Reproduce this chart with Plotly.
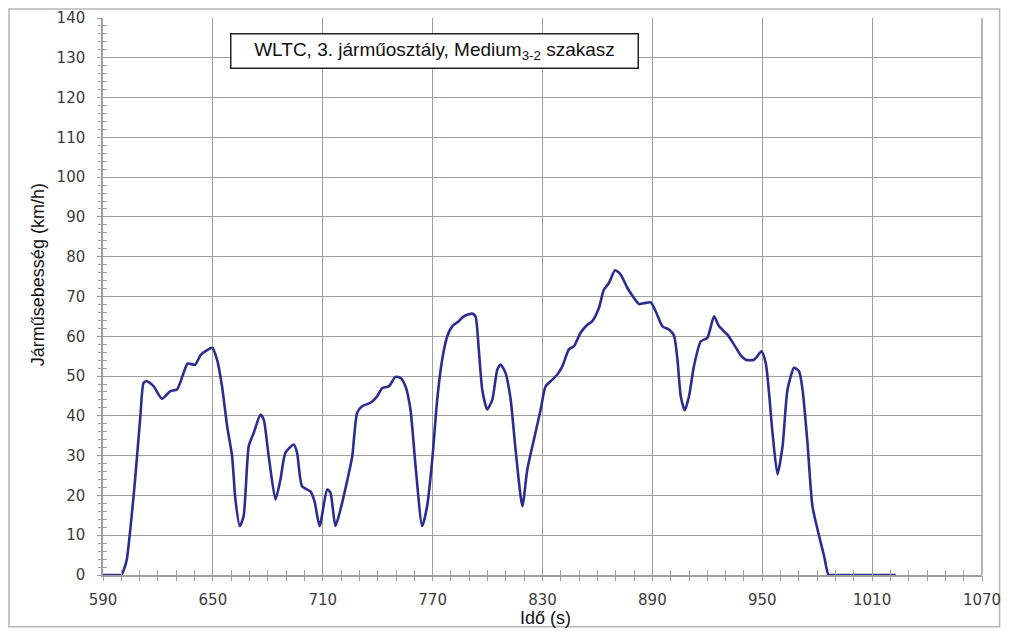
import plotly.graph_objects as go

# WLTC class 3, medium phase (3-2)
time_s = [590, 598, 600, 601.5, 603, 606.7, 608.6, 610.4, 612.2, 614, 617.7, 622.2, 626.8,
          630.4, 634, 636.2, 640.4, 643.2, 646.8, 649.6, 652.3, 655, 657.8, 660.5,
          662.3, 664.7, 666.8, 669.6, 672.3, 676, 677.8, 680.5, 684.2, 686.9, 689.6,
          694.2, 696, 698.7, 703.3, 705.5, 708.3, 712.4, 714.2, 716.9, 719.7, 723.3,
          726.1, 728.8, 731.5, 736.1, 739.7, 742.5, 746.1, 749.7, 752.5, 755.2, 757.9,
          760.7, 764.3, 767, 769.8, 772.5, 775.2, 778, 780.7, 784.3, 787, 791.6, 793.4,
          795.2, 797.1, 799.8, 802.6, 805.3, 807.1, 809.8, 812.6, 815.3, 819, 821.7,
          825.3, 829, 831.7, 835.4, 838.1, 840.9, 844.4, 847.2, 850.8, 854.5, 857.2,
          860.8, 863.5, 866.3, 869.6, 872.7, 876.3, 879.1, 882.7, 886.3, 889.1, 891.8,
          895.5, 899.1, 901.8, 903.7, 905.5, 907.7, 910, 912.7, 916.4, 920, 923.7,
          926.4, 931, 934.6, 938.3, 941, 945.5, 949.6, 951.9, 953.7, 955.6, 958.3,
          961.1, 963.8, 967.4, 970.1, 972, 974.7, 977.4, 981.1, 983.8, 986.2, 988,
          1020, 1022.9]

speed_kmh = [0, 0, 0, 1.5, 3.9, 19.8, 29.9, 39.9, 48.3, 48.7, 47.4, 44.3, 46.2,
             46.6, 50.8, 53.1, 52.9, 55.2, 56.5, 57.1, 54.1, 47.4, 37.4, 29.8,
             19, 12.3, 14.8, 32.4, 35.7, 40.3, 39, 29.8, 19, 24, 30.7,
             32.8, 30.7, 22.3, 21, 18.5, 12.3, 21.5, 20.7, 12.3, 16.5, 23.6,
             29.8, 40.8, 42.4, 43.3, 44.9, 47, 47.4, 49.8, 49.5, 47.4, 41.6,
             27.3, 12.3, 17.3, 29, 44.1, 54.1, 60, 62.5, 63.8, 65, 65.7, 65,
             56.7, 46.6, 41.6, 44.1, 51.6, 52.9, 50.8, 44.1, 31.5, 17.3, 26.5,
             34, 41.6, 47.4, 49.1, 50.4, 52.5, 56.7, 57.5, 60.9, 62.9, 63.8,
             67.1, 71.7, 73.4, 76.6, 75.5, 72.2, 70.2, 68.1, 68.4, 68.5, 66.3,
             62.5, 61.7, 60.2, 54.1, 44.9, 41.4, 44.9, 52.5, 58.7, 59.6, 65,
             62.5, 60.4, 57.9, 55.2, 54.1, 54.1, 56.2, 53.3, 45.8, 35.7, 25.3,
             32.4, 46.6, 52.1, 51.2, 46.6, 33.2, 17.3, 9.7, 4.7, 0, 0,
             0, 0]

x_ticks = [590, 650, 710, 770, 830, 890, 950, 1010, 1070]
y_ticks = list(range(0, 141, 10))

GRID = "#a39d9d"
TICKFONT = dict(family="DejaVu Sans", size=15, color="#3c3c3c")
LABELFONT = dict(family="Liberation Sans", size=18, color="#111")

fig = go.Figure()
fig.add_trace(go.Scatter(
    x=time_s, y=speed_kmh, mode="lines",
    line=dict(color="#2b2d8f", width=2.6, shape="spline", smoothing=0.6),
    showlegend=False, hoverinfo="x+y",
))
# invisible trace on the overlay axes so the outer half of the ticks is drawn
fig.add_trace(go.Scatter(x=[590], y=[0], xaxis="x2", yaxis="y2", mode="markers",
                         marker=dict(opacity=0), showlegend=False, hoverinfo="skip"))

axis_common = dict(showline=True, linecolor=GRID, linewidth=1.5, automargin=False,
                   gridcolor=GRID, gridwidth=1.4, zeroline=False)

fig.update_layout(
    width=993, height=620,
    margin=dict(l=95, r=19, t=10, b=53, autoexpand=False),
    paper_bgcolor="white", plot_bgcolor="white",
    font=dict(family="Liberation Sans", color="#111"),
    xaxis=dict(range=[590, 1070], tickvals=x_ticks, ticks="inside", ticklen=5,
               tickcolor=GRID, tickwidth=1.3, ticklabeloverflow="allow",
               minor=dict(dtick=10, tick0=590, ticks="inside", ticklen=5,
                          tickcolor=GRID, showgrid=False),
               tickfont=TICKFONT, ticklabelstandoff=10, **axis_common),
    yaxis=dict(range=[0, 140], tickvals=y_ticks, ticks="inside", ticklen=5,
               tickcolor=GRID, tickwidth=1.3,
               minor=dict(dtick=2, tick0=0, ticks="inside", ticklen=4,
                          tickcolor=GRID, showgrid=False),
               tickfont=TICKFONT, ticklabelstandoff=13, **axis_common),
    xaxis2=dict(range=[590, 1070], overlaying="x", anchor="y2", side="bottom",
                tickvals=x_ticks, ticks="outside", ticklen=5, tickcolor=GRID,
                tickwidth=1.3, showticklabels=False, showgrid=False,
                automargin=False,
                minor=dict(dtick=10, tick0=590, ticks="outside", ticklen=5,
                           tickcolor=GRID),
                showline=False, zeroline=False),
    yaxis2=dict(range=[0, 140], overlaying="y", anchor="x2", side="left",
                tickvals=y_ticks, ticks="outside", ticklen=5, tickcolor=GRID,
                tickwidth=1.3, showticklabels=False, showgrid=False,
                automargin=False,
                minor=dict(dtick=2, tick0=0, ticks="outside", ticklen=4,
                           tickcolor=GRID),
                showline=False, zeroline=False),
    shapes=[
        # outer frame of the figure
        dict(type="rect", xref="paper", yref="paper", x0=-0.107, x1=1.02,
             y0=-0.093, y1=1.016, line=dict(color="#b5b5b5", width=1.5),
             layer="below"),
        # right border of the plot area
        dict(type="line", xref="paper", yref="paper", x0=1, x1=1, y0=0, y1=1,
             line=dict(color=GRID, width=1.5)),
    ],
    annotations=[
        dict(text="WLTC, 3. járműosztály, Medium<sub>3-2</sub> szakasz",
             xref="paper", yref="paper", x=0.3766, y=0.941, xanchor="center",
             yanchor="middle", showarrow=False, width=404, height=31,
             font=dict(family="Liberation Sans", size=19, color="#111"),
             bgcolor="white", bordercolor="#222", borderwidth=1.5, borderpad=1),
        dict(text="Idő (s)", xref="paper", yref="paper", x=0.503, y=-0.077,
             xanchor="center", yanchor="middle", showarrow=False, font=LABELFONT),
        dict(text="Járműsebesség (km/h)", xref="paper", yref="paper", x=-0.074,
             y=0.54, xanchor="center", yanchor="middle", textangle=-90,
             showarrow=False, font=LABELFONT),
    ],
)

fig.write_html("out.html")
